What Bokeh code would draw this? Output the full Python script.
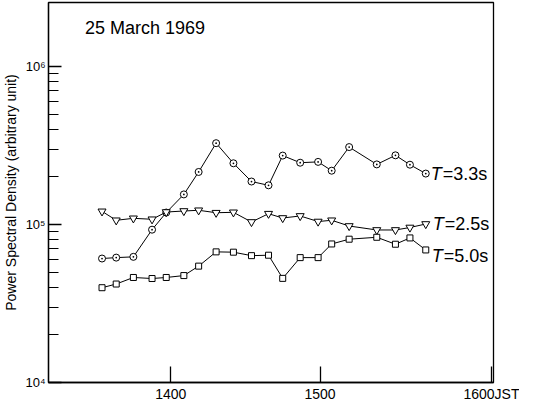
from bokeh.plotting import figure
from bokeh.models import FixedTicker, CustomJSTickFormatter, Label, Range1d
from bokeh.core.properties import value
from bokeh.embed import file_html
from bokeh.resources import INLINE

# time in decimal hours (JST)
times = [13.54, 13.635, 13.75, 13.875, 13.97, 14.088, 14.187, 14.304, 14.42, 14.541,
         14.655, 14.75, 14.867, 14.987, 15.078, 15.195, 15.38, 15.505, 15.602, 15.708]

psd_33 = [6.09e4, 6.17e4, 6.24e4, 9.27e4, 1.19e5, 1.55e5, 2.15e5, 3.27e5, 2.44e5, 1.87e5,
          1.77e5, 2.73e5, 2.46e5, 2.49e5, 2.19e5, 3.09e5, 2.40e5, 2.74e5, 2.39e5, 2.10e5]
psd_25 = [1.211e5, 1.063e5, 1.094e5, 1.079e5, 1.199e5, 1.217e5, 1.230e5, 1.187e5, 1.194e5, 1.037e5,
          1.170e5, 1.099e5, 1.132e5, 1.044e5, 1.063e5, 9.78e4, 9.23e4, 9.23e4, 9.57e4, 1.007e5]
psd_50 = [3.98e4, 4.20e4, 4.62e4, 4.55e4, 4.62e4, 4.75e4, 5.45e4, 6.71e4, 6.68e4, 6.35e4,
          6.39e4, 4.56e4, 6.17e4, 6.17e4, 7.53e4, 8.07e4, 8.30e4, 7.50e4, 8.22e4, 6.90e4]

series_labels = ["=3.3s", "=2.5s", "=5.0s"]
x_ticks = [14, 15, 16.15]          # last tick sits at the right frame edge ("1600JST")
y_major = [1e4, 1e5, 1e6]
y_minor = [m * d for d in (1e4, 1e5) for m in range(2, 10)]

FONT = "Liberation Sans"

p = figure(width=519, height=404, y_axis_type="log",
           x_range=Range1d(13.1815, 16.1617), y_range=Range1d(1e4, 2.54e6),
           output_backend="svg", toolbar_location=None, min_border=0,
           min_border_left=41, min_border_right=26, min_border_top=2, min_border_bottom=0)

p.xgrid.visible = False
p.ygrid.visible = False
p.outline_line_color = "black"
p.outline_line_width = 1.3
p.background_fill_color = "white"
p.border_fill_color = "white"

xa = p.xaxis[0]
xa.axis_label = None
xa.ticker = FixedTicker(ticks=x_ticks)
xa.formatter = CustomJSTickFormatter(
    code="return tick > 15.5 ? '1600JST' : String(Math.round(tick*100));")
xa.major_tick_in = 16
xa.major_tick_out = 0
xa.minor_tick_in = 0
xa.minor_tick_out = 0
xa.axis_line_color = "black"
xa.axis_line_width = 1.3
xa.major_tick_line_width = 1.3
xa.major_label_standoff = 3
xa.major_label_text_font = FONT
xa.major_label_text_font_size = "14px"
xa.major_label_text_color = "black"

ya = p.yaxis[0]
ya.ticker = FixedTicker(ticks=y_major, minor_ticks=y_minor)
ya.formatter = CustomJSTickFormatter(
    code="const m={4:'10\u2074',5:'10\u2075',6:'10\u2076'}; return m[Math.round(Math.log10(tick))] || '';")
ya.major_tick_in = 13
ya.major_tick_out = 0
ya.minor_tick_in = 10
ya.minor_tick_out = 0
ya.major_tick_line_width = 1.5
ya.minor_tick_line_width = 1.2
ya.axis_line_color = "black"
ya.axis_line_width = 1.3
ya.major_label_standoff = 3
ya.major_label_text_font = FONT
ya.major_label_text_font_size = "13px"
ya.major_label_text_color = "black"
ya.axis_label = "Power Spectral Density (arbitrary unit)"
ya.axis_label_text_font = FONT
ya.axis_label_text_font_size = "14px"
ya.axis_label_text_font_style = "normal"
ya.axis_label_text_color = "black"
ya.axis_label_standoff = 3

for vals, marker, size in ((psd_33, "circle_dot", 7), (psd_25, "inverted_triangle", 8), (psd_50, "square", 6)):
    p.line(times, vals, line_color="black", line_width=1)
    p.scatter(times, vals, marker=marker, size=size, fill_color="white",
              line_color="black", line_width=1)

offsets = [(5, 0), (7, 0), (6, 6)]
for vals, lab, (dx, dy) in zip((psd_33, psd_25, psd_50), series_labels, offsets):
    p.text(x=[times[-1]], y=[vals[-1]], text=["T"], x_offset=dx, y_offset=dy,
           text_font=value(FONT), text_font_size="18px", text_font_style="italic",
           text_baseline="middle", text_align="left", text_color="black")
    p.text(x=[times[-1]], y=[vals[-1]], text=[lab], x_offset=dx + 12, y_offset=dy,
           text_font=value(FONT), text_font_size="18px",
           text_baseline="middle", text_align="left", text_color="black")

p.add_layout(Label(x=13.426, y=1.76e6, text="25 March 1969", text_font=FONT,
                   text_font_size="18px", text_color="black", text_baseline="alphabetic"))

open("out.html", "w").write(file_html(p, INLINE))
